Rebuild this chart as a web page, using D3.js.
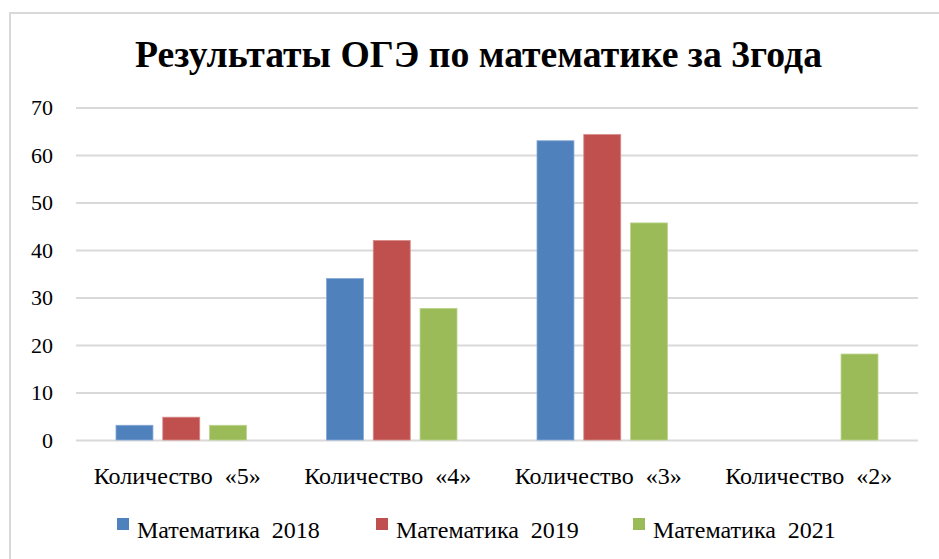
<!DOCTYPE html>
<html>
<head>
<meta charset="utf-8">
<script src="https://cdn.jsdelivr.net/npm/d3@7/dist/d3.min.js"></script>
</head>
<body style="margin:0">
<svg id="chart" width="939" height="559" font-family='"Liberation Serif"'></svg>
<script>
const categories = ['Количество  «5»', 'Количество  «4»', 'Количество  «3»', 'Количество  «2»'];
const seriesNames = ['Математика  2018', 'Математика  2019', 'Математика  2021'];
const math2018 = [3.1, 34, 63, 0];
const math2019 = [4.8, 42, 64.3, 0];
const math2021 = [3.1, 27.7, 45.7, 18.1];
const yTicks = [0, 10, 20, 30, 40, 50, 60, 70];
const colors = ['#4F81BD', '#C0504D', '#9BBB59'];
const strokes = ['#86a9d6', '#d88a88', '#bcd48c'];
const FONT = '"Liberation Serif"';

const MARGIN = { top: 107.5, left: 76, right: 21, bottom: 119 };
const W = 939, H = 559;
const width = W - MARGIN.left - MARGIN.right;
const height = H - MARGIN.top - MARGIN.bottom;

const seriesValues = [math2018, math2019, math2021];
const table = categories.map((c, i) => ({
  category: c,
  values: seriesValues.map((s, j) => ({ key: j, value: s[i] }))
}));

const svg = d3.select('#chart');

// frame, right and bottom edges fall outside the picture
svg.append('rect')
  .attr('x', 10).attr('y', 13)
  .attr('width', 960).attr('height', 600)
  .attr('fill', 'none')
  .attr('stroke', '#d9d9d9')
  .attr('stroke-width', 2);

svg.append('text')
  .attr('x', 135).attr('y', 67)
  .attr('textLength', 687)
  .attr('lengthAdjust', 'spacingAndGlyphs')
  .attr('font-family', FONT)
  .style('font-family', FONT)
  .attr('font-size', 38)
  .attr('font-weight', 'bold')
  .text('Результаты ОГЭ по математике за 3года');

const g = svg.append('g').attr('transform', `translate(${MARGIN.left},${MARGIN.top})`);

const x0 = d3.scaleBand().domain(categories).range([0, width]).padding(0);
const x1 = d3.scaleBand().domain([0, 1, 2])
  .range([40, x0.bandwidth() - 40])
  .paddingInner(0.21).paddingOuter(0);
const y = d3.scaleLinear().domain([0, 70]).range([height, 0]);

// gridlines
g.append('g')
  .call(d3.axisLeft(y).tickValues(yTicks).tickSize(-width).tickFormat(''))
  .call(a => a.select('.domain').remove())
  .call(a => a.selectAll('line').attr('stroke', '#d9d9d9').attr('stroke-width', 2));

// y labels
g.append('g')
  .call(d3.axisLeft(y).tickValues(yTicks).tickSize(0).tickPadding(23))
  .call(a => a.attr('font-family', FONT).attr('font-size', 22))
  .call(a => a.select('.domain').remove())
  .call(a => a.selectAll('text')
    .attr('fill', '#000')
    .attr('font-family', FONT)
    .style('font-family', FONT)
    .attr('font-size', 22)
    .attr('dy', '0.33em'));

// bars
const groups = g.selectAll('.grp')
  .data(table)
  .join('g')
  .attr('class', 'grp')
  .attr('transform', d => `translate(${x0(d.category)},0)`);

groups.selectAll('rect')
  .data(d => d.values.filter(v => v.value > 0))
  .join('rect')
  .attr('x', d => x1(d.key))
  .attr('y', d => y(d.value))
  .attr('width', x1.bandwidth())
  .attr('height', d => y(0) - y(d.value))
  .attr('fill', d => colors[d.key])
  .attr('stroke', d => strokes[d.key])
  .attr('stroke-width', 0.8);

// category labels
g.selectAll('.cat')
  .data(categories)
  .join('text')
  .attr('class', 'cat')
  .attr('x', d => x0(d) + x0.bandwidth() / 2 - 4)
  .attr('y', height + 44)
  .attr('text-anchor', 'middle')
  .attr('font-family', FONT)
  .style('font-family', FONT)
  .style('white-space', 'pre')
  .attr('font-size', 24)
  .text(d => d);

// legend
const legendX = [117, 376, 633];
const legend = svg.append('g')
  .selectAll('g')
  .data(seriesNames)
  .join('g')
  .attr('transform', (d, i) => `translate(${legendX[i]},518)`);

legend.append('rect')
  .attr('width', 12).attr('height', 12)
  .attr('fill', (d, i) => colors[i]);

legend.append('text')
  .attr('x', 20).attr('y', 20)
  .attr('font-family', FONT)
  .style('font-family', FONT)
  .style('white-space', 'pre')
  .attr('font-size', 24)
  .text(d => d);
</script>
</body>
</html>
